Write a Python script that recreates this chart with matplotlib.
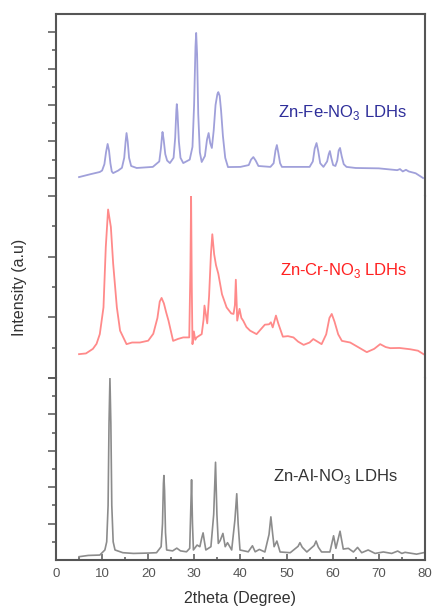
import matplotlib
matplotlib.use('Agg')
import matplotlib.pyplot as plt
from matplotlib.ticker import MultipleLocator, FixedLocator

plt.rcParams['font.family'] = ['Liberation Sans', 'DejaVu Sans']
plt.rcParams['mathtext.fontset'] = 'custom'
plt.rcParams['mathtext.rm'] = 'Liberation Sans'

# Zn-Fe-NO3 (top), 2theta / intensity (a.u.)
fe_2t = [5.0, 7.5, 9.5, 10.0, 10.5, 10.85, 11.2, 11.5, 11.8, 12.1, 12.4, 13.5, 14.3, 14.8, 15.1,
         15.3, 15.55, 15.85, 16.3, 17.5, 21.0, 22.4, 22.75, 23.0, 23.1, 23.35, 23.7, 24.1, 24.7,
         25.5, 25.85, 26.1, 26.2, 26.35, 26.65, 27.0, 27.6, 29.0, 29.6, 29.95, 30.25, 30.4,
         30.6, 30.85, 31.2, 31.6, 32.3, 32.75, 33.1, 33.45, 33.8, 34.2, 34.6, 35.0, 35.2, 35.5,
         35.8, 36.2, 36.7, 37.3, 40.0, 41.8, 42.3, 42.8, 43.3, 43.9, 46.5, 47.2, 47.6, 47.9,
         48.2, 48.6, 49.0, 55.0, 55.7, 56.1, 56.5, 56.85, 57.3, 58.0, 58.8, 59.15, 59.4, 59.7,
         60.1, 60.6, 61.0, 61.3, 61.6, 61.95, 62.4, 63.0, 65.0, 70.0, 74.0, 74.6, 75.2, 75.9,
         76.5, 78.0, 79.6]
fe_int = [10.4, 12.0, 13.2, 14, 17.5, 24, 28.6, 25, 18, 13.5, 12.6, 14, 15.5, 21, 30,
          34.6, 30, 21, 16.5, 15.4, 16, 19, 26, 33, 35.2, 31, 23, 19.5, 18.1,
          21, 32, 47, 50.5, 46, 30, 21, 18.1, 20, 27, 50, 82, 89.6,
          78, 45, 24, 18.7, 22, 31, 34.6, 29, 26.4, 36, 50, 56, 57.1, 55,
          47, 33, 21, 15.9, 16, 17, 20, 21.4, 19.5, 16.5, 16, 18, 25, 28.0,
          24, 18, 16, 16, 19, 26, 29.1, 25, 18, 16, 19, 23, 24.7, 21,
          17, 16.5, 19.5, 25, 26.4, 22, 17.5, 16, 15.4, 15.2, 14.2, 14.8, 13.5, 14.4,
          13.5, 12.5, 9.9]

# Zn-Cr-NO3 (middle)
cr_2t = [5.0, 6.5, 8.0, 8.8, 9.5, 10.3, 10.8, 11.3, 11.9, 12.4, 13.2, 13.9, 15.3, 16.5, 18.2,
         20.0, 21.1, 22.0, 22.5, 22.9, 23.4, 23.9, 24.4, 25.4, 26.5, 27.6, 28.9, 29.15, 29.3,
         29.45, 29.6, 29.9, 30.2, 30.5, 31.6, 32.0, 32.2, 32.5, 32.8, 33.2, 33.6, 33.9, 34.3,
         34.7, 35.2, 36.0, 37.0, 38.0, 38.5, 38.8, 39.0, 39.2, 39.3, 39.8, 40.2, 40.6, 41.3,
         42.1, 43.5, 44.5, 45.3, 46.2, 46.6, 47.0, 47.7, 48.2, 49.2, 50.3, 51.5, 52.5, 53.7,
         55.0, 55.8, 56.7, 57.6, 58.6, 59.3, 59.8, 60.4, 61.2, 62.0, 63.8, 65.5, 67.4, 69.0,
         70.3, 71.5, 72.5, 74.5, 76.8, 78.5, 79.7]
cr_int = [13.1, 13.5, 16, 18.8, 24.1, 38.8, 72, 92.6, 83, 62.8, 38.8, 26, 18.6, 19.5, 19.5,
          20.5, 24.3, 33, 42, 44.0, 41, 36, 31.5, 20.4, 21.5, 22.3, 22.3, 60, 100,
          50, 18.6, 25.6, 21, 22.3, 24.1, 32, 39.8, 35, 30, 45, 68, 79, 68,
          62, 57.3, 46, 38.8, 35.5, 35.2, 40, 54, 40, 31.5, 38, 33, 31.5, 28,
          26, 24.1, 27, 29.3, 29.5, 30.6, 27.8, 34.3, 30, 22.7, 23, 22.3, 20, 18.2,
          19.5, 21.4, 20, 18.6, 24, 33, 35.2, 31, 24, 20.4, 19.5, 17, 14.2, 16,
          18.6, 17, 16.4, 16.5, 15.8, 15, 13.1]

# Zn-Al-NO3 (bottom)
al_2t = [5.0, 7.0, 9.5, 10.6, 11.0, 11.3, 11.5, 11.7, 11.9, 12.1, 12.4, 12.8, 14.5, 16.8, 20.0,
         21.8, 22.8, 23.1, 23.3, 23.4, 23.55, 23.75, 24.0, 25.3, 26.2, 27.0, 28.3, 29.0, 29.2,
         29.4, 29.6, 29.8, 30.6, 31.2, 31.6, 31.9, 32.2, 32.5, 33.6, 34.2, 34.6, 34.9, 35.2,
         35.6, 36.2, 36.7, 37.2, 38.1, 38.8, 39.2, 39.5, 39.9, 41.7, 42.6, 43.2, 44.1, 45.3,
         46.2, 46.6, 47.0, 47.3, 47.9, 48.6, 50.8, 52.5, 52.9, 53.4, 54.4, 56.0, 56.4, 56.9,
         57.6, 59.4, 60.2, 60.7, 61.6, 62.3, 63.4, 64.5, 65.4, 66.3, 67.7, 69.2, 71.0, 72.8,
         74.1, 75.0, 75.7, 78.2, 79.7]
al_int = [1.8, 2.5, 2.7, 5.5, 10, 30, 75, 99.8, 75, 30, 10, 5.5, 4, 3.6, 3.8,
          4, 7.3, 20, 42, 46.4, 38, 15, 5.5, 5, 6.5, 5, 4.5, 6.4, 25,
          44.1, 20, 5.5, 8.2, 7.3, 12, 14.9, 10, 5.5, 7.3, 25, 53.7, 25, 9.1,
          10.6, 14.6, 7.3, 9.5, 5.5, 22, 36.4, 20, 5.5, 4.5, 7.8, 4.5, 5.8, 4.4,
          14, 23.7, 14, 7.3, 10.4, 4.4, 4.0, 7.5, 9.5, 7, 4.4, 8, 10.4, 7,
          4.4, 4.4, 13.3, 6.4, 15.8, 6.0, 6.4, 4.4, 6.9, 4, 5.5, 3.6, 4.4, 3.6,
          4.9, 3.6, 4.2, 3.2, 4]

labels = ['Zn-Fe-NO$_3$ LDHs', 'Zn-Cr-NO$_3$ LDHs', 'Zn-Al-NO$_3$ LDHs']

spine_c = '#555555'
fig = plt.figure(figsize=(4.34, 6.10), dpi=100)
gs = fig.add_gridspec(3, 1, left=0.129, right=0.979, top=0.977, bottom=0.082, hspace=0)
ax_fe = fig.add_subplot(gs[0])
ax_cr = fig.add_subplot(gs[1], sharex=ax_fe)
ax_al = fig.add_subplot(gs[2], sharex=ax_fe)

ax_fe.plot(fe_2t, fe_int, color='#a0a0da', lw=1.3, solid_joinstyle='round')
ax_cr.plot(cr_2t, cr_int, color='#ff8a8a', lw=1.3, solid_joinstyle='round')
ax_al.plot(al_2t, al_int, color='#8c8c8c', lw=1.2, solid_joinstyle='round')

ax_fe.text(48.2, 46, labels[0], color='#2e2e9a', fontsize=12, va='center')
ax_cr.text(48.6, 59, labels[1], color='#ff2020', fontsize=12, va='center')
ax_al.text(47.1, 46, labels[2], color='#333333', fontsize=12, va='center')

ax_fe.set_ylim(0, 100)
ax_cr.set_ylim(0, 100)
ax_al.set_ylim(0, 100)
ax_fe.yaxis.set_major_locator(FixedLocator([10, 30, 50, 70, 90]))
ax_fe.yaxis.set_minor_locator(FixedLocator([20, 40, 60, 80]))
ax_cr.yaxis.set_major_locator(FixedLocator([0, 100 / 3, 200 / 3, 100]))
ax_cr.yaxis.set_minor_locator(FixedLocator([100 / 6, 50, 500 / 6]))
ax_al.yaxis.set_major_locator(FixedLocator([20, 40, 60, 80, 100]))
ax_al.yaxis.set_minor_locator(FixedLocator([10, 30, 50, 70, 90]))

for ax in (ax_fe, ax_cr, ax_al):
    for s in ax.spines.values():
        s.set_color(spine_c)
        s.set_linewidth(1.5)
    ax.tick_params(axis='y', which='major', direction='out', length=5.5, width=1.1,
                   color=spine_c, labelleft=False, right=False)
    ax.tick_params(axis='y', which='minor', direction='out', length=3.2, width=1.1,
                   color=spine_c, right=False)
    ax.tick_params(axis='x', which='both', bottom=False, top=False, labelbottom=False)

ax_fe.spines['bottom'].set_visible(False)
ax_cr.spines['top'].set_visible(False)
ax_cr.spines['bottom'].set_visible(False)
ax_al.spines['top'].set_visible(False)

ax_al.set_xlim(0, 80)
ax_al.xaxis.set_major_locator(MultipleLocator(10))
ax_al.xaxis.set_minor_locator(MultipleLocator(5))
ax_al.tick_params(axis='x', which='major', bottom=True, labelbottom=True, direction='in',
                  length=4, width=1.1, color=spine_c, labelsize=9.5, labelcolor='#555555', pad=6)
ax_al.tick_params(axis='x', which='minor', bottom=True, direction='in', length=2.5,
                  width=1.1, color=spine_c)

ax_al.set_xlabel('2theta (Degree)', fontsize=11.5, color='#333333', labelpad=8)
fig.text(20 / 434, 1 - 287 / 610, 'Intensity (a.u)', rotation=90, fontsize=11.5,
         color='#333333', ha='center', va='center')

fig.savefig('out.png', dpi=100)
